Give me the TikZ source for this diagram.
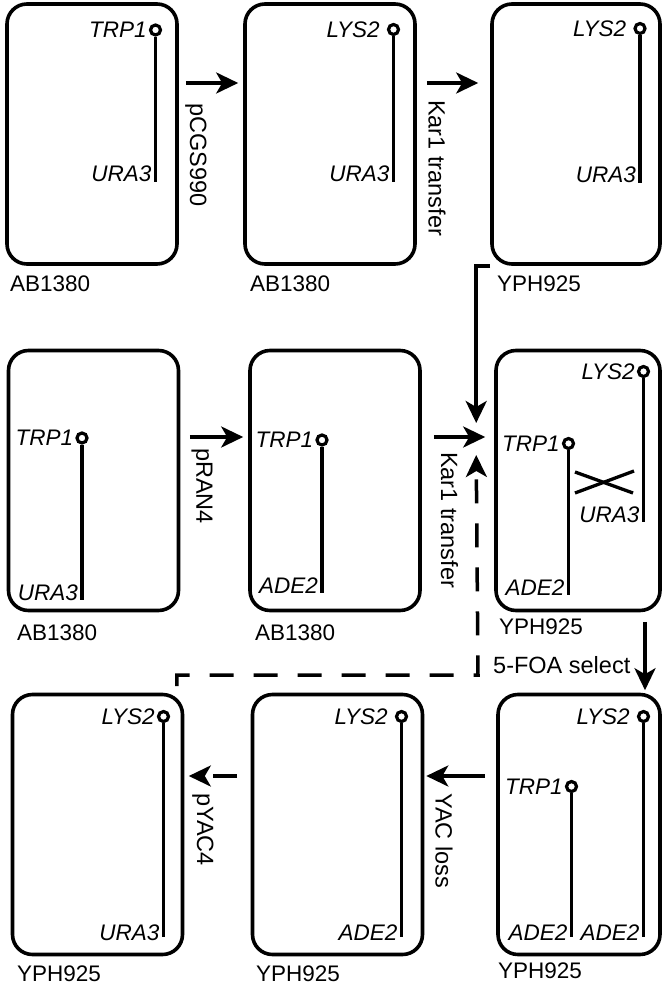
\documentclass[tikz,border=0pt]{standalone}
\usepackage{fontspec}
\setmainfont{Liberation Sans}
\usetikzlibrary{positioning,arrows.meta}

\newcommand{\labfont}{\fontsize{22.5}{26}\selectfont}
\newcommand{\stepfont}{\fontsize{23.5}{27}\selectfont}

\tikzset{
    cell/.style={draw, line width=3.6pt, rounded corners=20pt,
        minimum width=170pt, minimum height=260pt, inner sep=0pt},
    cen/.style={draw, circle, line width=3.2pt, minimum size=10pt, inner sep=0pt},
    chrom/.style={line width=3.3pt},
    gene/.style={font=\labfont\itshape, inner sep=1pt},
    strain/.style={anchor=base west, inner sep=0pt},
    steplabel/.style={rotate=-90, anchor=west, inner sep=0pt, font=\stepfont},
    flow/.style={line width=3.5pt, -{Stealth[length=22pt,width=21pt,inset=6pt]}},
    dflow/.style={flow, dash pattern=on 24pt off 20pt}
}

\begin{document}
\begin{tikzpicture}[x=1pt, y=-1pt, font=\labfont]
\useasboundingbox (0,0) rectangle (661,984);

% Cells
\node[cell] (b1) at (92,134) {};
\node[cell] (b2) at (330,134) {};
\node[cell, minimum width=168pt] (b3) at (576,134) {};
\node[cell] (b4) at (93.5,480.5) {};
\node[cell] (b5) at (335,480.5) {};
\node[cell, minimum width=164pt] (b6) at (578,480.5) {};
\node[cell] (b7) at (97.5,824.5) {};
\node[cell] (b8) at (337.5,824.5) {};
\node[cell, minimum width=162pt] (b9) at (579,824.5) {};

% Strains
\node[strain] (s1) at (10,291) {AB1380};
\node[strain] (s2) at (250,291) {AB1380};
\node[strain] (s3) at (497,291) {YPH925};
\node[strain] (s4) at (17,640) {AB1380};
\node[strain] (s5) at (255,640) {AB1380};
\node[strain] (s6) at (499,634) {YPH925};
\node[strain] (s7) at (17,981) {YPH925};
\node[strain] (s8) at (256,981) {YPH925};
\node[strain] (s9) at (498,978) {YPH925};

% Chromosomes, row 1
\node[cen] (c1) at (155.5,30) {};
\coordinate (e1) at (155.5,182);
\draw[chrom] (c1) -- (e1);
\node[gene, left=1pt of c1] (t1) {TRP1};
\node[gene, anchor=base east] (u1) at ([xshift=-3pt]e1) {URA3};

\node[cen] (c2) at (393.5,29.5) {};
\coordinate (e2) at (393.5,182);
\draw[chrom] (c2) -- (e2);
\node[gene, left=6pt of c2] (t2) {LYS2};
\node[gene, anchor=base east] (u2) at ([xshift=-3pt]e2) {URA3};

\node[cen] (c3) at (640,28.5) {};
\coordinate (e3) at (640,183);
\draw[chrom] (c3) -- (e3);
\node[gene, left=6pt of c3] (t3) {LYS2};
\node[gene, anchor=base east] (u3) at ([xshift=-3pt]e3) {URA3};

% Chromosomes, row 2
\node[cen] (c4) at (82,438) {};
\coordinate (e4) at (82,600);
\draw[chrom] (c4) -- (e4);
\node[gene, left=1pt of c4] (t4) {TRP1};
\node[gene, anchor=base east] (u4) at ([xshift=-3pt]e4) {URA3};

\node[cen] (c5) at (322,440) {};
\coordinate (e5) at (322,593);
\draw[chrom] (c5) -- (e5);
\node[gene, left=1pt of c5] (t5) {TRP1};
\node[gene, anchor=base east] (u5) at ([xshift=-3pt]e5) {ADE2};

\node[cen] (c6a) at (643.5,371.5) {};
\coordinate (e6a) at (643.5,522);
\draw[chrom] (c6a) -- (e6a);
\node[gene, left=1pt of c6a] (t6a) {LYS2};
\node[gene, anchor=base east] (u6a) at ([xshift=-3pt]e6a) {URA3};

\node[cen] (c6b) at (568.5,443.5) {};
\coordinate (e6b) at (568.5,595);
\draw[chrom] (c6b) -- (e6b);
\node[gene, left=1pt of c6b] (t6b) {TRP1};
\node[gene, anchor=base east] (u6b) at ([xshift=-3pt]e6b) {ADE2};

% Crossover
\draw[chrom] (575,472) -- (633,493);
\draw[chrom] (575,493) -- (634,471);

% Chromosomes, row 3
\node[cen] (c7) at (163.5,716.5) {};
\coordinate (e7) at (163.5,937);
\draw[chrom] (c7) -- (e7);
\node[gene, left=1pt of c7] (t7) {LYS2};
\node[gene, anchor=base east] (u7) at ([xshift=-3pt,yshift=-3pt]e7) {URA3};

\node[cen] (c8) at (401.5,716.5) {};
\coordinate (e8) at (401.5,937);
\draw[chrom] (c8) -- (e8);
\node[gene, left=6pt of c8] (t8) {LYS2};
\node[gene, anchor=base east] (u8) at ([xshift=-3pt,yshift=-3pt]e8) {ADE2};

\node[cen] (c9a) at (643.5,716.5) {};
\coordinate (e9a) at (643.5,937);
\draw[chrom] (c9a) -- (e9a);
\node[gene, left=6pt of c9a] (t9a) {LYS2};
\node[gene, anchor=base east] (u9a) at ([xshift=-3pt,yshift=-3pt]e9a) {ADE2};

\node[cen] (c9b) at (571.5,786.5) {};
\coordinate (e9b) at (571.5,937);
\draw[chrom] (c9b) -- (e9b);
\node[gene, left=1pt of c9b] (t9b) {TRP1};
\node[gene, anchor=base east] (u9b) at ([xshift=-3pt,yshift=-3pt]e9b) {ADE2};

% Steps
\draw[flow, shorten <=7pt, shorten >=5pt] ([yshift=51pt]b1.east) -- ([yshift=51pt]b2.west);
\node[steplabel] (l1) at (196,103) {pCGS990};
\draw[flow, shorten <=10pt, shorten >=12pt] ([yshift=51pt]b2.east) -- ([yshift=51pt]b3.west);
\node[steplabel] (l2) at (437,100) {Kar1 transfer};

\draw[flow, shorten <=9.5pt, shorten >=5pt] ([yshift=43.5pt]b4.east) -- ([yshift=43.5pt]b5.west);
\node[steplabel] (l3) at (202,448) {pRAN4};
\draw[flow, shorten <=12pt, shorten >=9pt] ([yshift=43.5pt]b5.east) -- ([yshift=43.5pt]b6.west);
\node[steplabel] (l4) at (449.5,452) {Kar1 transfer};

\draw[flow] (b3.south west) -| ([shift={(-18,-57.5)}]b6.west);

\coordinate (turn) at (478,675);
\draw[dflow] ([shift={(-7.5,-6.5)}]b7.north east) |- (turn) -- ([shift={(-18,-25.5)}]b6.west);

\draw[flow, shorten <=9.5pt, shorten >=2.5pt] ([xshift=67pt]b6.south) -- ([xshift=66pt]b9.north);
\node[anchor=base west, inner sep=0pt, font=\stepfont] (l5) at (493,673) {5-FOA select};

\draw[flow, shorten <=11pt, shorten >=2pt] ([yshift=48.5pt]b9.west) -- ([yshift=48.5pt]b8.east);
\node[steplabel] (l6) at (444,793) {YAC loss};
\draw[dflow, shorten <=13.5pt, shorten >=4.5pt] ([yshift=48.5pt]b8.west) -- ([yshift=48.5pt]b7.east);
\node[steplabel] (l7) at (203,793) {pYAC4};

\end{tikzpicture}
\end{document}
